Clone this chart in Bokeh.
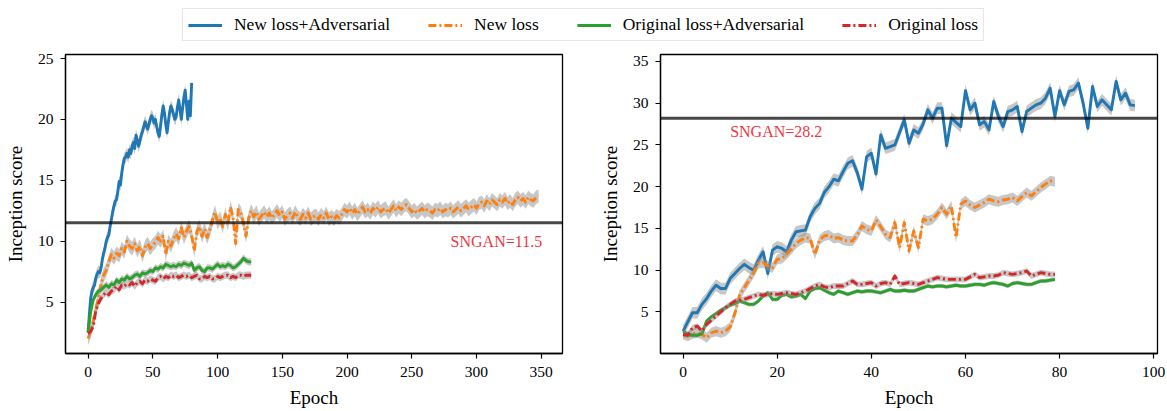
from bokeh.plotting import figure
from bokeh.layouts import column, row
from bokeh.models import (Range1d, FixedTicker, Label, Legend, LegendItem, Span,
                          ColumnDataSource)
from bokeh.embed import file_html
from bokeh.resources import INLINE

FONT = "Liberation Serif"

series_names = ["New loss+Adversarial", "New loss", "Original loss+Adversarial", "Original loss"]
colors = ["#1f77b4", "#ff7f0e", "#2ca02c", "#d62728"]
dashes = ["solid", "8 3 2 3", "solid", "8 3 2 3"]

# ---------------- left panel data ----------------
left_blue_epoch = list(range(0, 81))
left_blue = [2.5, 4.0, 5.3, 5.9, 6.2, 6.4, 7.0, 7.3, 7.5, 7.4, 7.8, 8.5, 9.0, 9.4, 10.0, 10.3, 10.5,
             11.2, 11.8, 12.4, 12.9, 13.3, 13.4, 14.1, 14.9, 14.6, 15.6, 16.3, 16.8, 16.9, 17.2,
             16.9, 17.5, 17.2, 17.8, 18.1, 17.6, 18.7, 18.3, 17.8, 18.2, 18.7, 19.0, 19.4, 19.8,
             19.5, 19.2, 19.6, 20.0, 20.3, 20.1, 19.7, 20.0, 19.4, 18.9, 18.6, 19.5, 20.4, 21.1,
             20.5, 19.6, 18.9, 19.8, 20.6, 21.1, 20.8, 20.4, 20.0, 20.2, 21.0, 21.6, 20.8, 20.0,
             20.9, 21.8, 22.4, 21.2, 20.0, 21.5, 20.3, 23.0]

left_orange_epoch = list(range(0, 350, 2))
left_orange = [2.0, 2.6, 3.4, 4.5, 5.2, 6.5, 7.2, 7.6, 8.3, 8.9, 8.6, 9.0, 8.8, 9.4, 9.1, 10.0,
               9.6, 9.4, 9.8, 9.2, 9.6, 8.8, 9.5, 9.8, 9.4, 9.7, 9.9, 10.3, 10.0, 10.4, 8.9, 10.0,
               9.6, 10.2, 10.6, 10.2, 11.1, 10.3, 10.8, 11.2, 10.5, 9.2, 10.8, 11.2, 10.4, 11.0,
               10.3, 10.9, 11.7, 12.4, 11.5, 11.9, 11.2, 12.2, 11.4, 12.8, 11.9, 9.8, 12.6, 12.3,
               11.5, 10.4, 11.9, 12.5, 12.0, 12.4, 11.8, 12.1, 12.4, 12.0, 12.3, 11.9, 12.2, 12.5,
               12.1, 12.4, 11.8, 12.1, 12.3, 11.9, 12.4, 12.0, 11.8, 12.2, 11.9, 12.3, 11.8, 12.0,
               12.1, 11.8, 12.2, 11.9, 12.3, 11.8, 12.0, 11.8, 12.1, 11.9, 12.2, 12.6, 12.4, 12.7,
               12.3, 12.6, 12.2, 12.5, 12.8, 12.4, 12.6, 12.3, 12.7, 12.5, 12.8, 12.4, 12.6, 12.7,
               12.3, 12.6, 12.9, 12.5, 12.8, 12.6, 12.9, 13.0, 12.7, 12.4, 12.6, 12.3, 12.5, 12.7,
               12.4, 12.6, 12.5, 12.3, 12.6, 12.5, 12.7, 12.4, 12.6, 12.5, 12.7, 12.4, 12.6, 12.8,
               12.5, 12.7, 12.9, 12.6, 12.8, 13.0, 12.7, 13.1, 13.2, 12.9, 13.3, 13.0, 13.4, 13.2,
               13.0, 13.4, 13.2, 13.5, 13.1, 13.3, 13.0, 13.4, 13.6, 13.3, 13.5, 13.2, 13.6, 13.4,
               13.3, 13.6, 13.7]

left_green_epoch = list(range(0, 127, 2))
left_green = [2.5, 4.2, 5.2, 5.6, 5.9, 6.0, 6.2, 6.4, 6.2, 6.5, 6.4, 6.8, 6.6, 6.9, 6.8, 7.1,
              6.9, 7.0, 7.2, 7.3, 7.1, 7.4, 7.3, 7.4, 7.6, 7.5, 7.8, 7.7, 7.9, 7.8, 8.1, 8.0,
              7.9, 8.0, 7.9, 8.1, 8.0, 8.2, 8.1, 8.0, 8.2, 7.6, 7.8, 7.9, 7.6, 7.5, 7.8, 7.8,
              7.7, 7.9, 8.1, 7.9, 8.0, 7.9, 8.1, 8.0, 7.8, 7.9, 8.1, 8.3, 8.6, 8.4, 8.3, 8.3]

left_red_epoch = list(range(0, 127, 2))
left_red = [2.4, 2.6, 3.0, 4.3, 4.9, 5.3, 5.6, 5.8, 5.6, 5.9, 6.0, 6.3, 6.0, 6.4, 6.3, 6.5,
            6.4, 6.6, 6.3, 6.6, 6.7, 6.5, 6.8, 6.7, 6.9, 6.8, 6.7, 7.0, 7.1, 6.9, 7.1, 7.0,
            7.2, 7.1, 7.2, 7.0, 7.1, 7.2, 7.1, 7.2, 7.0, 7.1, 7.2, 6.9, 6.9, 7.1, 7.0, 7.1,
            6.9, 6.9, 7.1, 7.0, 7.1, 7.2, 7.2, 7.0, 7.1, 7.0, 7.2, 7.2, 7.1, 7.2, 7.2, 7.2]

left_std = [0.5, 0.55, 0.3, 0.3]
left_sngan = 11.5

# ---------------- right panel data ----------------
right_blue_epoch = list(range(0, 97))
right_blue = [2.7, 3.8, 4.9, 4.9, 5.9, 6.6, 7.5, 8.2, 7.8, 7.8, 9.0, 9.6, 10.2, 10.7, 10.3, 10.0,
              11.2, 12.2, 9.6, 12.4, 12.8, 12.6, 12.2, 13.6, 14.6, 14.7, 14.8, 16.4, 17.4, 18.0,
              19.3, 20.0, 20.9, 20.7, 21.8, 22.8, 23.1, 21.7, 19.7, 23.6, 24.0, 21.5, 26.2, 24.6,
              24.8, 25.0, 26.5, 28.0, 25.2, 26.8, 26.4, 27.5, 29.2, 28.2, 29.4, 29.4, 24.9, 28.2,
              27.7, 27.2, 31.5, 29.2, 30.0, 27.4, 27.8, 26.8, 30.2, 28.4, 27.2, 29.0, 29.2, 29.6,
              26.6, 29.0, 29.4, 29.8, 30.0, 30.6, 31.8, 28.4, 31.5, 29.8, 31.4, 31.6, 32.4, 30.0,
              27.0, 32.0, 29.6, 30.4, 29.8, 29.2, 32.6, 30.4, 31.2, 29.8, 29.7]

right_orange_epoch = list(range(0, 80))
right_orange = [2.3, 2.1, 2.4, 2.5, 2.3, 1.9, 2.5, 2.7, 2.5, 2.7, 3.2, 4.8, 7.0, 7.9, 8.8, 9.7,
                10.8, 10.9, 10.5, 10.3, 11.3, 11.4, 11.9, 12.5, 13.2, 13.6, 13.9, 13.8, 11.9, 13.6,
                14.1, 14.2, 13.8, 13.9, 13.6, 13.5, 13.5, 14.2, 15.3, 14.9, 14.7, 16.0, 15.2, 14.3,
                13.9, 15.7, 12.7, 15.7, 12.3, 14.7, 12.7, 16.1, 15.9, 16.1, 16.7, 17.5, 16.7, 17.7,
                13.9, 17.9, 18.3, 17.8, 17.5, 17.8, 18.1, 18.5, 18.3, 18.2, 18.4, 18.5, 18.7, 18.3,
                18.8, 19.3, 18.9, 19.4, 19.9, 20.3, 20.7, 20.6]

right_green_epoch = list(range(0, 80))
right_green = [2.7, 2.3, 2.2, 2.2, 2.4, 3.9, 4.4, 4.8, 5.2, 5.5, 5.8, 6.0, 6.3, 6.1, 5.9, 5.9,
               6.3, 6.9, 7.3, 6.5, 6.5, 7.0, 7.1, 6.8, 6.9, 7.1, 6.6, 7.5, 7.8, 7.9, 7.6, 7.3,
               7.1, 7.5, 7.3, 7.1, 7.3, 7.5, 7.4, 7.5, 7.5, 7.4, 7.3, 7.5, 7.7, 7.5, 7.5, 7.6,
               7.5, 7.5, 7.7, 7.9, 8.1, 8.0, 8.1, 8.1, 8.0, 8.1, 8.2, 8.1, 8.1, 8.2, 8.3, 8.3,
               8.2, 8.4, 8.5, 8.4, 8.3, 8.1, 8.4, 8.5, 8.4, 8.3, 8.3, 8.5, 8.7, 8.7, 8.8, 8.9]

right_red_epoch = list(range(0, 80))
right_red = [2.3, 2.2, 3.1, 3.3, 2.7, 3.5, 4.0, 4.5, 5.0, 5.5, 5.9, 6.3, 6.4, 6.5, 6.7, 6.9,
             7.1, 7.0, 7.1, 7.2, 7.1, 7.2, 7.3, 7.2, 7.1, 7.3, 7.5, 7.8, 8.1, 8.3, 8.0, 7.9,
             8.1, 8.1, 8.1, 8.4, 8.7, 8.3, 8.3, 8.4, 8.5, 8.1, 8.4, 8.5, 8.3, 9.3, 8.3, 8.4,
             8.5, 8.4, 8.3, 8.5, 8.7, 8.9, 9.1, 9.0, 8.9, 8.9, 8.9, 8.9, 8.9, 9.2, 9.5, 9.1,
             9.2, 9.3, 9.3, 9.4, 9.7, 9.6, 9.5, 9.6, 9.7, 9.9, 9.3, 9.5, 9.7, 9.6, 9.5, 9.5]

right_std = [0.7, 0.6, 0.25, 0.35]
right_sngan = 28.2

left_ticks_x = [0, 50, 100, 150, 200, 250, 300, 350]
left_ticks_y = [5, 10, 15, 20, 25]
right_ticks_x = [0, 20, 40, 60, 80, 100]
right_ticks_y = [5, 10, 15, 20, 25, 30, 35]


def make_panel(width, border_left, border_right, xr, yr, xticks, yticks, data, stds, sngan,
               label_xy):
    p = figure(width=width, height=364, output_backend="svg", toolbar_location=None,
               x_range=Range1d(*xr), y_range=Range1d(*yr),
               min_border_left=border_left, min_border_right=border_right,
               min_border_top=8, min_border_bottom=54)
    p.grid.visible = False
    p.outline_line_color = "black"
    p.outline_line_width = 1.3
    p.background_fill_color = "white"
    p.border_fill_color = "white"
    for ax in (p.xaxis[0], p.yaxis[0]):
        ax.axis_line_color = "black"
        ax.axis_line_width = 1.3
        ax.major_tick_line_color = "black"
        ax.major_tick_line_width = 1.2
        ax.major_tick_out = 5
        ax.major_tick_in = 0
        ax.minor_tick_line_color = None
        ax.major_label_text_font = FONT
        ax.major_label_text_font_size = "15.5px"
        ax.major_label_text_color = "black"
        ax.axis_label_text_font = FONT
        ax.axis_label_text_font_size = "19px"
        ax.axis_label_text_font_style = "normal"
        ax.axis_label_text_color = "black"
    p.xaxis[0].ticker = FixedTicker(ticks=xticks)
    p.yaxis[0].ticker = FixedTicker(ticks=yticks)
    p.xaxis[0].axis_label = "Epoch"
    p.yaxis[0].axis_label = "Inception score"
    p.xaxis[0].major_label_standoff = 8
    p.yaxis[0].major_label_standoff = 7
    p.xaxis[0].axis_label_standoff = 7
    p.yaxis[0].axis_label_standoff = 9

    for (xs, ys), s, c, d in zip(data, stds, colors, dashes):
        src = ColumnDataSource(dict(x=xs, y=ys,
                                    lo=[v - s for v in ys], hi=[v + s for v in ys]))
        p.varea(x="x", y1="lo", y2="hi", source=src, fill_color="#909090", fill_alpha=0.5)
        p.line(x="x", y="y", source=src, line_color=c, line_width=2.9, line_dash=d,
               line_join="round")
    p.add_layout(Span(location=sngan, dimension="width", line_color="black",
                      line_alpha=0.72, line_width=3))
    p.add_layout(Label(x=label_xy[0], y=label_xy[1], text="SNGAN=%s" % sngan,
                       text_font=FONT, text_font_size="16px", text_color="#f0353f",
                       text_baseline="alphabetic"))
    return p


left = make_panel(582, 65, 20, (-17.45, 366.45), (0.77, 25.33), left_ticks_x, left_ticks_y,
                  [(left_blue_epoch, left_blue), (left_orange_epoch, left_orange),
                   (left_green_epoch, left_green), (left_red_epoch, left_red)],
                  left_std, left_sngan, (280, 10.0))
right = make_panel(584, 78, 9, (-4.8, 100.8), (0.02, 35.83), right_ticks_x, right_ticks_y,
                   [(right_blue_epoch, right_blue), (right_orange_epoch, right_orange),
                    (right_green_epoch, right_green), (right_red_epoch, right_red)],
                   right_std, right_sngan, (10, 26.6))

# legend strip
lg = figure(width=1166, height=46, output_backend="svg", toolbar_location=None,
            x_range=Range1d(0, 1), y_range=Range1d(0, 1),
            x_axis_type=None, y_axis_type=None,
            min_border_left=0, min_border_right=0, min_border_top=0, min_border_bottom=0)
lg.grid.visible = False
lg.outline_line_color = None
items = []
for name, c, d in zip(series_names, colors, dashes):
    r = lg.line(x=[-10, -9], y=[-10, -10], line_color=c, line_width=2.9, line_dash=d)
    items.append(LegendItem(label=name, renderers=[r]))
legend = Legend(items=items, orientation="horizontal", location="top_center",
                label_text_font=FONT, label_text_font_size="17.5px", label_text_color="black",
                glyph_width=34, glyph_height=18, label_height=18, label_standoff=12, spacing=38,
                padding=5, margin=8, border_line_color="#cccccc", border_line_width=1.3,
                background_fill_alpha=0.8)
lg.add_layout(legend, "center")

layout = column(lg, row(left, right))
open("out.html", "w").write(file_html(layout, INLINE))
